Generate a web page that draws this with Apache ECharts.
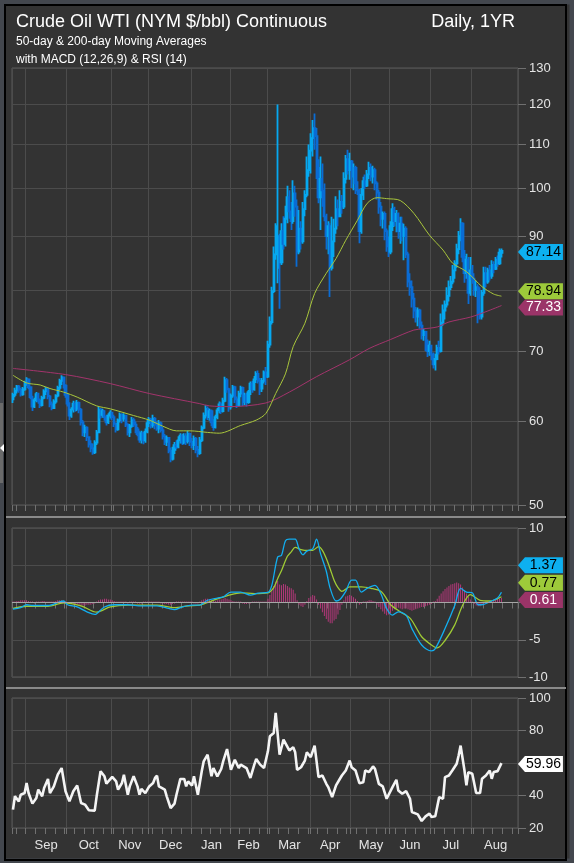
<!DOCTYPE html>
<html>
<head>
<meta charset="utf-8">
<script src="https://cdn.jsdelivr.net/npm/echarts@6/dist/echarts.min.js"></script>
<style>
html, body { margin: 0; padding: 0; background: #333; }
#chart { width: 574px; height: 863px; }
</style>
</head>
<body>
<div id="chart"></div>
<script>
// month names and trading days per month shown on the x axis
const monthNames = ['', 'Sep', 'Oct', 'Nov', 'Dec', 'Jan', 'Feb', 'Mar', 'Apr', 'May', 'Jun', 'Jul', 'Aug'];
const monthDays = [7, 21, 23, 19, 22, 20, 19, 22, 21, 20, 21, 21, 24];
const priceTicks = [50, 60, 70, 80, 90, 100, 110, 120, 130];
const priceLabels = [50, 60, 70, 90, 100, 110, 120, 130];

/* daily bars: open, close, low, high */
const ohlc = [
	[63.0,63.6,62.5,63.9],[63.6,64.2,63.3,64.6],[64.2,64.8,63.8,65.0],[64.8,64.3,63.9,65.0],[64.3,63.7,63.4,64.6],
	[63.7,64.4,63.5,64.7],[64.4,65.3,64.2,65.6],[65.3,65.8,64.9,66.1],[65.8,64.7,64.4,65.9],[64.7,63.3,63.0,64.8],
	[63.3,62.0,61.4,63.5],[62.0,62.9,61.8,63.2],[62.9,63.7,62.6,64.0],[63.7,62.8,62.4,63.9],[62.8,62.2,61.8,63.1],
	[62.2,63.2,62.0,63.5],[63.2,64.1,63.0,64.4],[64.1,64.5,63.6,64.7],[64.5,63.4,63.0,64.6],[63.4,62.3,61.9,63.6],
	[62.3,61.8,61.5,62.7],[61.8,62.7,61.7,63.0],[62.7,63.5,62.4,63.7],[63.5,64.6,63.3,64.9],[64.6,65.6,64.3,65.9],
	[65.6,66.1,65.0,66.4],[66.1,64.9,64.5,66.2],[64.9,63.6,63.2,65.1],[63.6,62.4,62.0,63.8],[62.4,60.8,60.2,62.6],
	[60.8,61.6,60.5,61.9],[61.6,62.4,61.2,62.8],[62.4,61.7,61.3,62.7],[61.7,62.5,61.4,62.9],[62.5,61.6,61.1,62.7],
	[61.6,59.9,59.5,61.8],[59.9,58.6,58.1,60.2],[58.6,59.2,58.0,59.6],[59.2,58.0,57.5,59.4],[58.0,57.1,56.7,58.1],
	[57.1,56.6,56.1,57.6],[56.6,56.1,55.8,57.2],[56.1,57.3,55.9,57.6],[57.3,58.6,57.0,58.9],[58.6,61.6,58.5,62.0],
	[61.6,60.9,60.4,61.8],[60.9,61.4,60.5,61.7],[61.4,60.6,60.1,61.5],[60.6,59.9,59.5,60.9],[59.9,60.8,59.7,61.1],
	[60.8,61.2,60.4,61.5],[61.2,60.6,60.2,61.3],[60.6,59.7,59.3,60.9],[59.7,59.0,58.6,59.9],[59.0,60.2,58.8,60.4],
	[60.2,60.9,59.9,61.2],[60.9,60.4,59.8,61.1],[60.4,60.8,60.0,61.1],[60.8,59.6,59.3,60.9],[59.6,58.6,58.2,59.8],
	[58.6,59.4,58.0,59.7],[59.4,60.2,59.2,60.6],[60.2,59.6,59.3,60.5],[59.6,59.0,58.5,60.0],[59.0,58.4,58.1,59.3],
	[58.4,57.7,57.3,58.8],[57.7,58.5,57.2,58.8],[58.5,57.6,57.1,58.7],[57.6,58.7,57.3,59.1],[58.7,59.8,58.5,60.2],
	[59.8,60.3,59.3,60.6],[60.3,59.5,59.1,60.5],[59.5,60.4,59.2,60.9],[60.4,59.6,59.0,60.6],[59.6,59.1,58.8,60.0],
	[59.1,59.8,58.5,60.2],[59.8,58.9,58.6,60.0],[58.9,58.1,57.7,59.3],[58.1,57.4,57.0,58.4],[57.4,57.9,56.9,58.2],
	[57.9,56.3,56.0,58.0],[56.3,55.3,54.9,56.7],[55.3,56.4,55.1,56.8],[56.4,57.0,55.9,57.4],[57.0,56.8,56.5,57.6],
	[56.8,57.6,56.6,58.1],[57.6,58.2,57.2,58.5],[58.2,57.3,57.0,58.4],[57.3,58.1,57.1,58.5],[58.1,57.5,57.0,58.5],
	[57.5,58.4,57.2,58.8],[58.4,57.4,56.9,58.6],[57.4,57.0,56.6,57.9],[57.0,57.8,56.4,58.2],[57.8,56.4,56.0,58.0],
	[56.4,56.0,55.5,56.9],[56.0,57.6,55.8,58.0],[57.6,59.2,57.4,59.5],[59.2,60.8,59.0,61.2],[60.8,61.7,60.4,62.2],
	[61.7,60.6,60.2,62.0],[60.6,61.4,60.1,61.7],[61.4,59.9,59.4,61.6],[59.9,59.3,58.8,60.3],[59.3,60.6,59.1,60.9],
	[60.6,61.5,60.3,61.8],[61.5,62.3,61.1,62.7],[62.3,61.4,61.0,62.6],[61.4,62.8,61.2,63.2],[62.8,65.7,62.6,66.2],
	[65.7,64.4,63.9,66.0],[64.4,62.0,61.3,64.6],[62.0,63.5,61.6,63.8],[63.5,64.7,63.2,65.0],[64.7,63.0,62.5,64.9],
	[63.0,62.2,61.8,63.4],[62.2,63.8,62.0,64.2],[63.8,64.6,63.3,64.9],[64.6,62.6,62.1,64.8],[62.6,63.5,62.2,63.9],
	[63.5,62.6,62.0,63.9],[62.6,64.0,62.4,64.3],[64.0,65.2,63.6,65.5],[65.2,64.4,63.9,65.6],[64.4,65.8,64.2,66.3],
	[65.8,66.6,65.3,67.0],[66.6,65.6,65.2,67.1],[65.6,64.5,63.6,66.0],[64.5,65.6,64.0,66.0],[65.6,66.8,65.2,67.1],
	[66.8,66.2,65.0,67.6],[66.2,71.0,66.0,71.6],[71.0,74.6,70.5,75.5],[74.6,79.8,74.2,80.6],[79.8,86.5,79.5,88.0],
	[86.5,92.0,85.5,92.6],[84.0,90.0,81.2,120.0],[88.0,85.0,76.8,90.5],[85.0,91.0,84.5,92.6],[91.0,88.5,87.4,94.0],
	[88.5,93.5,88.0,96.2],[93.5,98.0,92.6,100.5],[98.0,95.0,93.5,99.5],[95.0,93.0,91.2,97.0],[93.0,98.8,92.5,101.7],
	[98.8,96.0,93.9,100.5],[96.0,87.0,84.2,97.5],[87.0,91.5,86.5,95.3],[91.5,89.0,87.4,93.0],[89.0,95.5,88.5,97.0],
	[95.5,98.5,94.0,99.5],[98.5,104.0,98.0,107.1],[104.0,108.5,102.5,110.0],[108.5,111.5,103.2,112.7],[111.5,114.0,107.1,116.0],
	[114.0,112.0,108.7,117.7],[112.0,104.5,102.0,114.0],[104.5,98.0,96.7,106.5],[98.0,102.0,91.2,107.1],[102.0,99.5,96.0,105.5],
	[99.5,94.0,93.0,101.0],[94.0,90.0,87.4,94.5],[90.0,92.0,86.5,93.0],[92.0,84.0,78.8,92.6],[84.0,89.0,83.5,93.9],
	[89.0,91.5,86.0,93.5],[91.5,95.5,90.5,98.2],[95.5,94.0,92.0,97.5],[94.0,97.0,93.9,99.5],[97.0,96.0,94.5,98.5],
	[96.0,102.0,95.5,103.5],[102.0,106.5,101.0,107.5],[106.5,104.0,103.0,108.7],[104.0,106.0,101.8,108.0],[106.0,102.5,100.0,106.3],
	[102.5,104.5,99.5,105.5],[104.5,101.0,98.7,105.0],[101.0,99.5,98.5,101.5],[99.5,91.0,88.6,99.8],[91.0,98.5,90.5,100.0],
	[98.5,101.5,97.4,102.5],[101.5,100.5,99.8,103.0],[100.5,103.0,100.2,104.0],[103.0,104.5,102.0,105.9],[104.5,102.5,101.5,105.5],
	[102.5,104.0,101.0,105.0],[104.0,101.0,99.5,104.5],[101.0,99.0,97.5,101.5],[99.0,96.0,94.5,99.6],[96.0,93.5,92.0,97.0],
	[93.5,94.5,91.5,95.0],[94.5,91.0,89.2,95.0],[91.0,88.0,87.0,91.5],[88.0,87.0,86.0,89.9],[87.0,92.0,86.5,93.0],
	[92.0,95.5,91.0,96.7],[95.5,93.0,92.0,96.0],[93.0,94.5,90.8,95.3],[94.5,91.0,89.5,94.8],[91.0,92.5,88.5,93.9],
	[92.5,90.0,89.0,93.9],[90.0,91.5,85.4,92.5],[91.5,86.5,85.8,92.0],[86.5,81.5,80.5,87.0],[81.5,80.5,79.0,83.0],
	[80.5,78.5,77.0,81.7],[78.5,76.5,75.2,79.5],[76.5,75.5,74.5,77.1],[75.5,76.5,73.9,77.0],[76.5,74.0,73.5,76.8],
	[74.0,72.5,71.8,74.7],[72.5,73.0,71.6,73.5],[73.0,71.0,70.0,73.2],[71.0,70.0,69.1,71.8],[70.0,70.8,69.3,71.6],
	[70.8,69.5,68.6,71.0],[69.5,68.0,67.4,69.8],[68.0,68.8,67.1,69.6],[68.8,70.5,68.6,71.0],[70.5,70.0,69.5,71.6],
	[70.0,74.5,69.8,76.0],[74.5,76.5,74.0,77.5],[76.5,77.5,75.0,78.2],[77.5,79.0,77.0,80.5],[79.0,80.5,78.0,81.7],
	[80.5,81.5,80.0,82.5],[81.5,83.5,81.0,84.5],[83.5,84.8,82.0,85.4],[84.8,87.5,84.0,88.5],[87.5,90.0,86.5,91.0],
	[90.0,92.5,89.0,93.6],[92.5,86.0,85.0,92.8],[86.0,83.0,81.3,87.3],[83.0,85.5,82.0,86.6],[85.5,79.5,77.6,86.0],
	[79.5,83.5,79.0,86.0],[83.5,82.0,81.1,84.5],[82.0,80.0,79.0,83.0],[80.0,80.5,78.8,81.7],[80.5,76.0,74.4,81.0],
	[76.0,75.5,75.0,80.5],[75.5,79.5,75.0,80.0],[79.5,83.0,79.0,84.2],[83.0,81.5,80.5,84.2],[81.5,83.5,81.1,84.0],
	[83.5,82.5,81.7,84.5],[82.5,84.5,82.0,85.4],[84.5,83.8,83.0,85.2],[83.8,85.5,83.6,86.0],[85.5,84.8,84.2,86.3],
	[84.8,86.8,84.5,87.6],[86.8,87.14,85.9,87.6]
];

/* moving averages: [day, value] */
const ma50 = [[0,66.4],[7,65.3],[14,65.0],[19,64.5],[26,64.0],[33,63.3],[43,62.1],[50,61.7],[62,60.8],[70,60.2],
	[77,59.4],[84,58.8],[91,58.8],[100,58.6],[106,58.5],[117,59.5],[125,60.2],[130,61.1],[135,63.8],[140,66.6],
	[144,70.7],[150,74.4],[155,79.4],[161,83.0],[166,85.7],[171,89.2],[177,93.2],[182,96.7],[187,97.9],[192,97.7],
	[199,97.3],[206,94.6],[214,90.2],[221,87.3],[226,84.8],[233,83.3],[241,80.6],[247,79.3],[251,78.94]];
const ma200 = [[0,67.4],[27,66.5],[50,65.2],[70,63.8],[96,62.4],[101,62.1],[111,62.0],[130,62.5],[142,64.0],[156,66.2],
	[173,68.7],[183,70.4],[194,71.8],[206,73.3],[211,73.5],[218,73.8],[224,74.6],[235,75.4],[243,76.3],[251,77.33]];

/* MACD (12,26,9) */
const macd = [[0,-0.9],[4,-0.7],[7,-0.3],[10,-0.4],[18,-0.4],[24,0.1],[26,0.2],[28,-0.3],[33,-0.6],[38,-1.25],
	[42,-1.6],[43,-1.5],[47,-0.6],[52,-0.3],[59,-0.3],[66,-0.45],[74,-0.45],[80,-0.8],[83,-0.95],[87,-0.6],
	[92,-0.35],[96,-0.35],[100,0.3],[105,0.6],[108,0.75],[112,1.4],[117,1.4],[122,1.0],[126,1.25],[131,1.35],
	[133,2.3],[136,6.1],[138,6.35],[140,8.3],[142,8.5],[145,8.5],[147,7.2],[149,6.4],[151,6.9],[154,7.2],
	[156,8.5],[158,6.6],[161,4.2],[163,1.9],[166,0.2],[168,0.4],[171,1.5],[174,3.0],[176,3.0],[179,1.4],
	[182,1.9],[186,2.3],[189,1.2],[192,-0.8],[195,-1.7],[198,-1.25],[202,-1.7],[205,-3.5],[210,-5.7],[215,-6.5],
	[217,-6.2],[222,-3.5],[227,-0.4],[230,1.9],[233,1.4],[236,1.3],[239,-0.3],[241,-0.3],[245,0.1],[249,0.6],[251,1.37]];
const signal = [[0,-0.8],[7,-0.5],[18,-0.5],[26,-0.05],[35,-0.45],[43,-1.3],[50,-0.6],[59,-0.35],[74,-0.35],[83,-0.7],
	[90,-0.45],[96,-0.35],[103,0.3],[112,1.05],[117,1.3],[124,1.2],[131,1.3],[134,2.0],[136,3.2],[138,4.3],
	[141,6.2],[143,6.8],[145,7.4],[148,7.1],[150,7.0],[154,7.0],[157,7.5],[159,7.0],[161,5.9],[163,4.5],
	[165,3.0],[167,2.0],[169,1.5],[173,2.1],[179,2.1],[184,1.9],[189,1.5],[192,0.5],[194,-0.3],[199,-1.25],
	[204,-2.1],[207,-3.3],[210,-4.6],[215,-5.7],[218,-6.1],[222,-5.1],[227,-3.0],[231,-0.4],[235,1.05],[240,0.3],
	[245,0.2],[251,0.77]];
const hist = [
	0.1,0.1,0.2,0.2,0.3,0.3,0.3, 0.3,0.2,0.1,0.0,-0.1,0.0, 0.1,0.1,0.2,0.2,0.1,0.1,0.0,0.0,
	0.1,0.2,0.3,0.3,0.3,0.2,0.0, -0.1,-0.2,-0.2,-0.2,-0.2,-0.3,
	-0.3,-0.4,-0.4,-0.4,-0.3,-0.3,-0.3,-0.2,-0.1,0.1, 0.3,0.4,0.4,0.5,0.5,0.4,0.4,0.3,0.2,0.1,
	0.1,0.1,0.0,0.1,0.0,-0.1,0.0,0.1,0.1,0.0, -0.1,-0.1,-0.1,0.0,0.0,0.1,0.1,0.1,0.1,0.0,
	0.0,0.0,-0.1,-0.1,-0.2,-0.2,-0.3,-0.3,-0.2,-0.1, 0.0,0.0,0.1,0.1,0.1,0.0,0.0,0.1,0.0,-0.1,
	-0.1,-0.1,0.1,0.3,0.4,0.5,0.5,0.4,0.3,0.2, 0.2,0.3,0.4,0.4,0.5,0.6,0.5,0.4,0.3,0.2,
	0.1,0.1,0.0,0.0,-0.1,-0.2,-0.2,-0.1,-0.1,0.0, 0.1,0.1,0.0,0.0,0.0,0.0,0.1,
	0.5,1.0,1.5,2.2,2.8,2.9,2.4,2.3,2.5,2.4, 2.2,2.0,1.9,1.7,1.2,0.3,-0.3,-0.5,-0.6,-0.3,
	0.2,0.6,0.8,1.0,0.9,0.4,-0.3,-0.8,-1.3,-1.8, -2.2,-2.6,-2.8,-2.8,-2.4,-2.2,-1.6,-1.0,-0.3,0.3,
	0.8,0.9,1.0,0.9,0.7,0.5,0.2,-0.3,-0.2,0.0, 0.1,0.2,0.3,0.3,0.2,0.1,-0.3,-0.6,-0.9,-1.2,
	-1.5,-1.7,-1.6,-1.4,-1.1,-0.9,-0.8,-0.7,-0.8,-0.9, -0.8,-0.8,-0.9,-1.0,-1.1,-1.0,-0.9,-0.8,-0.7,-0.6,
	-0.6,-0.5,-0.4,-0.3,-0.2,0.0,0.2,0.5,0.9,1.2, 1.5,1.8,2.0,2.2,2.4,2.5,2.6,2.7,2.6,2.4,
	2.0,1.6,1.2,0.8,0.4,0.1,-0.2,-0.4,-0.5,-0.5, -0.3,-0.1,0.0,0.1,0.2,0.2,0.3,0.4,0.5,0.5,0.61
];

/* RSI (14) */
const rsi = [[0,31.3],[1,39.5],[3,36.4],[4,40.5],[6,41.5],[7,47.7],[8,41.5],[10,35],[12,38.5],[13,43.6],
	[15,39.5],[16,44.6],[18,50.2],[19,41.5],[21,45.6],[23,52.8],[24,53.8],[25,56.9],[27,42.6],[29,36.4],
	[31,42.6],[33,46.1],[35,35.4],[37,34.4],[39,30.9],[42,30.7],[43,39.5],[45,54.9],[47,51.8],[48,47.3],
	[51,51.4],[53,48.7],[54,43.6],[56,47.7],[57,52.8],[59,40.5],[60,45.6],[62,51.8],[64,45.6],[65,40.5],
	[66,44],[68,41.5],[70,45.6],[72,47.7],[73,50.8],[74,52.2],[75,45.6],[78,43.6],[79,39.5],[81,32.3],
	[83,35],[84,40.5],[86,50.2],[88,50.2],[89,45.6],[90,48.7],[92,46.1],[93,51.8],[95,40.5],[97,54.9],
	[98,61],[100,65.1],[102,51.8],[103,56.9],[105,51.8],[107,56.3],[108,61],[110,68.6],[112,55.9],[114,62],
	[116,56.9],[117,59],[120,56.9],[122,50.8],[124,59],[125,62.5],[127,59],[129,56.9],[131,67.2],[132,76.4],
	[134,78.5],[135,90.8],[137,65.1],[139,74.4],[140,75.4],[142,67.7],[144,69.7],[145,66.6],[146,55.8],[148,57.4],
	[150,61.5],[151,66.6],[153,63.6],[155,70.7],[156,71.4],[157,51.3],[159,52.3],[161,47.2],[162,45.2],[164,39],
	[166,46.2],[168,50.3],[169,52.3],[171,55.4],[173,61.5],[174,57.4],[176,55.4],[178,47.6],[180,48.2],[181,55.4],
	[183,54.4],[185,57.9],[186,56.4],[188,47.2],[190,45.6],[192,38],[193,37],[195,45.2],[197,49.7],[198,43.1],
	[200,41.1],[202,42.7],[204,38],[205,29.8],[208,28.4],[210,24.3],[212,27.2],[214,28.8],[215,26.8],[217,27.2],
	[219,39],[221,38],[222,51.3],[224,52.3],[226,55.8],[228,59.5],[229,64.6],[230,70.7],[232,55.4],[233,46.2],
	[234,54.4],[236,53.4],[238,41.5],[240,41.5],[241,50.3],[243,52.3],[245,55.4],[246,50.3],[247,54.4],[249,55],
	[251,59.96]];

document.addEventListener('DOMContentLoaded', () => {
	const FONT = '"Liberation Sans", Arial, sans-serif';
	const LAST = ohlc.length - 1;

	// trading-day slots; remember where months start and where their labels go
	const days = [];
	const monthStart = {};
	const monthMid = {};
	monthDays.forEach((n, m) => {
		monthStart[days.length] = true;
		monthMid[days.length + Math.floor(n / 2)] = monthNames[m];
		for (let d = 0; d < n; d++) days.push(m + '-' + d);
	});

	const xAxisFor = (i, showLabel) => ({
		type: 'category',
		gridIndex: i,
		data: days,
		boundaryGap: true,
		axisLine: { show: false },
		axisTick: {
			show: true,
			length: 6,
			interval: idx => idx % 5 === 2 || !!monthStart[idx],
			lineStyle: { color: '#707070' }
		},
		splitLine: {
			show: true,
			interval: idx => !!monthStart[idx],
			lineStyle: { color: '#4c4c4c' }
		},
		axisLabel: {
			show: showLabel,
			interval: idx => !!monthMid[idx],
			formatter: (v, idx) => monthMid[idx] || '',
			color: '#e4e4e4',
			fontSize: 13,
			margin: 11
		}
	});

	const yCommon = {
		position: 'right',
		axisLine: { show: false },
		axisTick: { show: true, length: 8, lineStyle: { color: '#707070' } },
		splitLine: { show: true, lineStyle: { color: '#4c4c4c' } }
	};
	const labelStyle = { color: '#e4e4e4', fontSize: 13, margin: 11 };

	/* 右侧数值标签 */
	const tag = (coord, text, fill, textColor, dy) => ({
		coord: coord,
		symbol: 'path://M0,8L7,0L45,0L45,16L7,16Z',
		symbolSize: [45, 16],
		symbolOffset: [39, dy],
		itemStyle: { color: fill },
		label: { show: true, formatter: text, color: textColor, fontSize: 14, offset: [3, 0], fontFamily: FONT }
	});

	const chart = echarts.init(document.getElementById('chart'));
	chart.setOption({
		animation: false,
		backgroundColor: '#333333',
		textStyle: { fontFamily: FONT },
		graphic: [
			{ type: 'rect', shape: { x: 2, y: 2, width: 570, height: 859 }, style: { fill: 'none', stroke: '#43474e', lineWidth: 5 }, silent: true },
			{ type: 'rect', shape: { x: 5, y: 5, width: 561, height: 855 }, style: { fill: 'none', stroke: '#000', lineWidth: 2 }, silent: true },
			{ type: 'rect', shape: { x: 6, y: 516, width: 560, height: 2 }, style: { fill: '#8a8a8a' }, silent: true },
			{ type: 'rect', shape: { x: 6, y: 687, width: 560, height: 2 }, style: { fill: '#8a8a8a' }, silent: true },
			{ type: 'rect', shape: { x: 0, y: 403, width: 3, height: 80 }, style: { fill: '#6a6a6a' }, silent: true },
			{ type: 'polygon', shape: { points: [[0, 448], [4, 444], [4, 452]] }, style: { fill: '#fff' }, silent: true },
			{ type: 'text', x: 16, y: 22, style: { text: 'Crude Oil WTI (NYM $/bbl) Continuous', fill: '#fff', font: '18px ' + FONT, verticalAlign: 'middle' } },
			{ type: 'text', x: 515, y: 22, style: { text: 'Daily, 1YR', fill: '#fff', font: '18px ' + FONT, align: 'right', verticalAlign: 'middle' } },
			{ type: 'text', x: 16, y: 42, style: { text: '50-day & 200-day Moving Averages', fill: '#fff', font: '12px ' + FONT, verticalAlign: 'middle' } },
			{ type: 'text', x: 16, y: 60, style: { text: 'with MACD (12,26,9) & RSI (14)', fill: '#fff', font: '12px ' + FONT, verticalAlign: 'middle' } }
		],
		grid: [
			{ left: 12, top: 68, width: 506, height: 437, show: true, borderColor: '#5a5a5a', borderWidth: 1 },
			{ left: 12, top: 528, width: 506, height: 149, show: true, borderColor: '#5a5a5a', borderWidth: 1 },
			{ left: 12, top: 698, width: 506, height: 130, show: true, borderColor: '#5a5a5a', borderWidth: 1 }
		],
		xAxis: [xAxisFor(0, false), xAxisFor(1, false), xAxisFor(2, true)],
		yAxis: [
			Object.assign({}, yCommon, {
				type: 'log', gridIndex: 0, logBase: 10, min: 50, max: 130,
				axisTick: { show: true, length: 8, customValues: priceTicks, lineStyle: { color: '#707070' } },
				axisLabel: Object.assign({ customValues: priceLabels }, labelStyle)
			}),
			Object.assign({}, yCommon, {
				type: 'value', gridIndex: 1, min: -10, max: 10, interval: 5,
				axisLabel: Object.assign({ formatter: v => (v === 5 || v === 0 ? '' : v) }, labelStyle)
			}),
			Object.assign({}, yCommon, {
				type: 'value', gridIndex: 2, min: 20, max: 100, interval: 20,
				axisLabel: Object.assign({ formatter: v => (v === 60 ? '' : v) }, labelStyle)
			})
		],
		series: [
			{
				type: 'candlestick',
				xAxisIndex: 0, yAxisIndex: 0,
				data: ohlc,
				barWidth: 1.6,
				itemStyle: {
					color: '#06a8f0', color0: '#0a6cd4',
					borderColor: '#06a8f0', borderColor0: '#0a6cd4',
					borderWidth: 1.8
				},
				z: 2
			},
			{
				type: 'line', name: '200-day',
				xAxisIndex: 0, yAxisIndex: 0,
				data: ma200, smooth: 0.3, showSymbol: false,
				lineStyle: { color: '#a3336c', width: 1 },
				z: 3,
				markPoint: { data: [tag([LAST, 77.33], '77.33', '#9b3468', '#fff', 2)] }
			},
			{
				type: 'line', name: '50-day',
				xAxisIndex: 0, yAxisIndex: 0,
				data: ma50, smooth: 0.3, showSymbol: false,
				lineStyle: { color: '#a9c63c', width: 1 },
				z: 3,
				markPoint: {
					data: [
						tag([LAST, 78.94], '78.94', '#9dca3a', '#000', -5),
						tag([LAST, 87.14], '87.14', '#0db0f0', '#000', 1)
					]
				}
			},
			{
				type: 'line', name: 'zero',
				xAxisIndex: 1, yAxisIndex: 1,
				data: [],
				z: 1,
				markLine: {
					silent: true, symbol: 'none', label: { show: false },
					lineStyle: { color: '#a6a6a6', type: 'solid', width: 1 },
					data: [{ yAxis: 0 }]
				}
			},
			{
				type: 'bar', name: 'hist',
				xAxisIndex: 1, yAxisIndex: 1,
				data: hist, barWidth: 1, barMinHeight: 1,
				itemStyle: { color: '#b3387a' },
				z: 2,
				markPoint: { data: [tag([LAST, 0.61], '0.61', '#9b3468', '#fff', 2)] }
			},
			{
				type: 'line', name: 'signal',
				xAxisIndex: 1, yAxisIndex: 1,
				data: signal, smooth: 0.3, showSymbol: false,
				lineStyle: { color: '#9fcb35', width: 1.3 },
				z: 3,
				markPoint: { data: [tag([LAST, 0.77], '0.77', '#9dca3a', '#000', -14)] }
			},
			{
				type: 'line', name: 'macd',
				xAxisIndex: 1, yAxisIndex: 1,
				data: macd, smooth: 0.3, showSymbol: false,
				lineStyle: { color: '#12aef0', width: 1.3 },
				z: 4,
				markPoint: { data: [tag([LAST, 1.37], '1.37', '#0db0f0', '#000', -27)] }
			},
			{
				type: 'line', name: 'rsi',
				xAxisIndex: 2, yAxisIndex: 2,
				data: rsi, showSymbol: false,
				lineStyle: { color: '#f4f4f4', width: 2.6 },
				z: 3,
				markPoint: { data: [tag([LAST, 59.96], '59.96', '#ffffff', '#000', 1)] }
			}
		]
	});
});
</script>
</body>
</html>
